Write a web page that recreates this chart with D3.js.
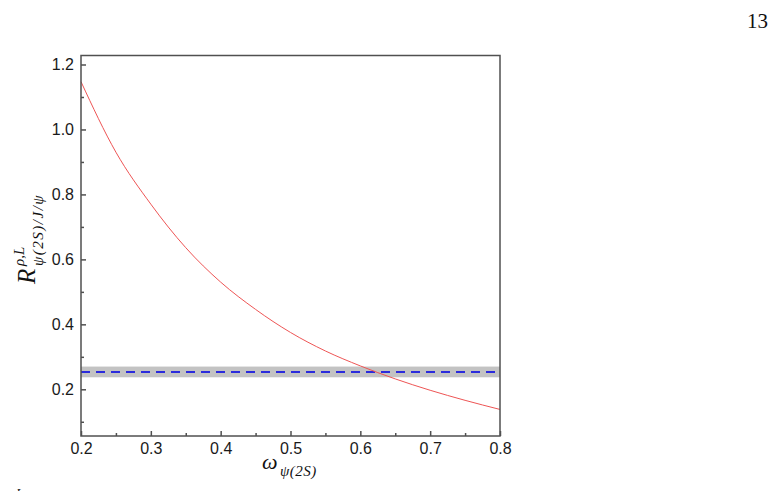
<!DOCTYPE html>
<html><head><meta charset="utf-8">
<script src="https://cdn.jsdelivr.net/npm/d3@7"></script>
<style>body{margin:0;background:#fff}svg{display:block}</style>
</head><body>
<svg id="c" width="774" height="491"></svg>
<script>
// data
const omega = [0.20,0.25,0.30,0.35,0.40,0.45,0.50,0.55,0.60,0.65,0.70,0.75,0.80];
const ratio = [1.147,0.930,0.770,0.636,0.530,0.446,0.375,0.318,0.272,0.232,0.197,0.166,0.138];
const expCentral = 0.253;
const expLow = 0.237;
const expHigh = 0.270;
const xMajor = [0.2,0.3,0.4,0.5,0.6,0.7,0.8];
const xMinor = [0.25,0.35,0.45,0.55,0.65,0.75];
const yMajor = [0.2,0.4,0.6,0.8,1.0,1.2];
const yMinor = [0.1,0.3,0.5,0.7,0.9,1.1];

const svg = d3.select("#c");
const L=81,R=500,T=55.5,B=436;
const x = d3.scaleLinear().domain([0.2,0.8]).range([L,R]);
const y = d3.scaleLinear().domain([0.2,1.2]).range([389.3,64.5]);
const axisCol="#505050";

// band
svg.append("rect").attr("x",x(0.2)).attr("width",x(0.8)-x(0.2))
  .attr("y",y(expHigh)).attr("height",y(expLow)-y(expHigh)).attr("fill","#c3c3c3");
svg.append("line").attr("x1",x(0.2)).attr("x2",x(0.8)).attr("y1",y(expCentral)).attr("y2",y(expCentral))
  .attr("stroke","#2b2bdc").attr("stroke-width",2).attr("stroke-dasharray","9,6");

// curve
const line = d3.line().x((d,i)=>x(omega[i])).y(d=>y(d)).curve(d3.curveMonotoneX);
svg.append("path").datum(ratio).attr("d",line).attr("fill","none")
  .attr("stroke","#ee5555").attr("stroke-width",1);

// axes
function styleAxis(g){ g.attr("font-size",null); g.select(".domain").remove(); g.selectAll(".tick line").attr("stroke",axisCol).attr("stroke-width",1.5);
  g.selectAll("text").attr("fill","#1a1a1a").style("font-family","'Liberation Sans', Arial, sans-serif").style("font-size","16px"); }
svg.append("g").attr("transform",`translate(0,${B})`)
  .call(d3.axisBottom(x).tickValues(xMajor).tickFormat(d3.format(".1f")).tickSizeInner(-5).tickSizeOuter(0).tickPadding(7))
  .call(styleAxis);
svg.append("g").attr("transform",`translate(0,${B})`)
  .call(d3.axisBottom(x).tickValues(xMinor).tickFormat("").tickSizeInner(-3).tickSizeOuter(0))
  .call(styleAxis);
svg.append("g").attr("transform",`translate(${L},0)`)
  .call(d3.axisLeft(y).tickValues(yMajor).tickFormat(d3.format(".1f")).tickSizeInner(-5).tickSizeOuter(0).tickPadding(7))
  .call(styleAxis);
svg.append("g").attr("transform",`translate(${L},0)`)
  .call(d3.axisLeft(y).tickValues(yMinor).tickFormat("").tickSizeInner(-3).tickSizeOuter(0))
  .call(styleAxis);

// frame
svg.append("rect").attr("x",L).attr("y",T).attr("width",R-L).attr("height",B-T)
  .attr("fill","none").attr("stroke",axisCol).attr("stroke-width",1.5);

// x title
const serif="'Liberation Serif','DejaVu Serif',serif";
svg.append("text").attr("x",262).attr("y",469).style("font-family",serif).style("font-style","italic")
  .style("font-size","22px").attr("fill","#111").text("ω");
svg.append("text").attr("x",280).attr("y",476).style("font-family",serif).style("font-style","italic")
  .style("font-size","15px").attr("fill","#111").attr("letter-spacing","0.5px").text("ψ(2S)");

// y title (rotated, reading bottom to top)
const yg = svg.append("g").attr("transform","translate(35,284) rotate(-90)")
  .style("font-family",serif).style("font-style","italic").attr("fill","#111");
yg.append("text").attr("x",0).attr("y",0).style("font-size","25px").text("R");
yg.append("text").attr("x",18).attr("y",-11).style("font-size","15px").text("ρ,L");
yg.append("text").attr("x",18).attr("y",8).style("font-size","15px").attr("letter-spacing","1.5px").text("ψ(2S)/J/ψ");

// page number
svg.append("text").attr("x",768).attr("y",28).attr("text-anchor","end")
  .style("font-family","'Liberation Serif',serif").style("font-size","21px").attr("fill","#111").text("13");
// cut-off fragment at bottom-left
svg.append("text").attr("x",16).attr("y",497).style("font-family",serif).style("font-style","italic")
  .style("font-size","13px").attr("fill","#111").text("L");
</script>
</body></html>
